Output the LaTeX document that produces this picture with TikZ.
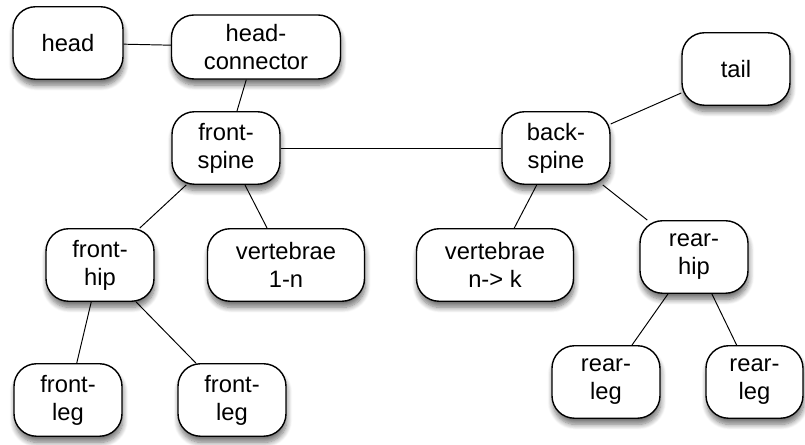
\documentclass[tikz,border=0pt]{standalone}
\usepackage{fontspec}
\setmainfont{Liberation Sans}
\usepackage{tikz}
\usetikzlibrary{shadows.blur}
\usetikzlibrary{positioning}

\begin{document}
\begin{tikzpicture}[
	part/.style={draw, line width=0.8pt, fill=white, rounded corners=0.45cm,
		minimum width=2.16cm, minimum height=1.45cm, inner sep=0pt,
		align=center, font=\fontsize{13.5}{16}\selectfont,
		blur shadow={shadow xshift=0.5pt, shadow yshift=-3.5pt, shadow blur steps=8, shadow blur radius=3pt, shadow opacity=55}},
	link/.style={line width=0.55pt}]

	\useasboundingbox (0,0) rectangle (16.1,8.9);

	% top row
	\node [part, minimum width=2.2cm] (head) at (1.36,8.04) {head};
	\node [part, minimum width=3.38cm, minimum height=1.28cm] (hconn) at (5.12,7.96) {head-\\connector};
	\node [part] (tail) at (14.72,7.52) {tail};

	% spine
	\node [part] (fspine) at (4.52,5.94) {front-\\spine};
	\node [part] (bspine) at (11.12,5.94) {back-\\spine};

	% hips and vertebrae
	\node [part] (fhip) at (2.0,3.6) {front-\\hip};
	\node [part, minimum width=3.14cm] (vertA) at (5.72,3.6) {vertebrae\\1-n};
	\node [part, minimum width=3.14cm] (vertB) at (9.9,3.6) {vertebrae\\n-> k};
	\node [part] (rhip) at (13.88,3.76) {rear-\\hip};

	% legs
	\node [part] (flegA) at (1.36,0.9) {front-\\leg};
	\node [part] (flegB) at (4.64,0.9) {front-\\leg};
	\node [part] (rlegA) at (12.12,1.26) {rear-\\leg};
	\node [part, minimum width=1.94cm] (rlegB) at (15.09,1.26) {rear-\\leg};

	\draw [link] (head) -- (hconn);
	\draw [link] (hconn) -- (fspine);
	\draw [link] (fspine) -- (bspine);
	\draw [link] (bspine) -- (tail);
	\draw [link] (fspine) -- (fhip);
	\draw [link] (fspine) -- (vertA);
	\draw [link] (bspine) -- (vertB);
	\draw [link] (bspine) -- (rhip);
	\draw [link] (fhip) -- (flegA);
	\draw [link] (fhip) -- (flegB);
	\draw [link] (rhip) -- (rlegA);
	\draw [link] (rhip) -- (rlegB);

\end{tikzpicture}
\end{document}
